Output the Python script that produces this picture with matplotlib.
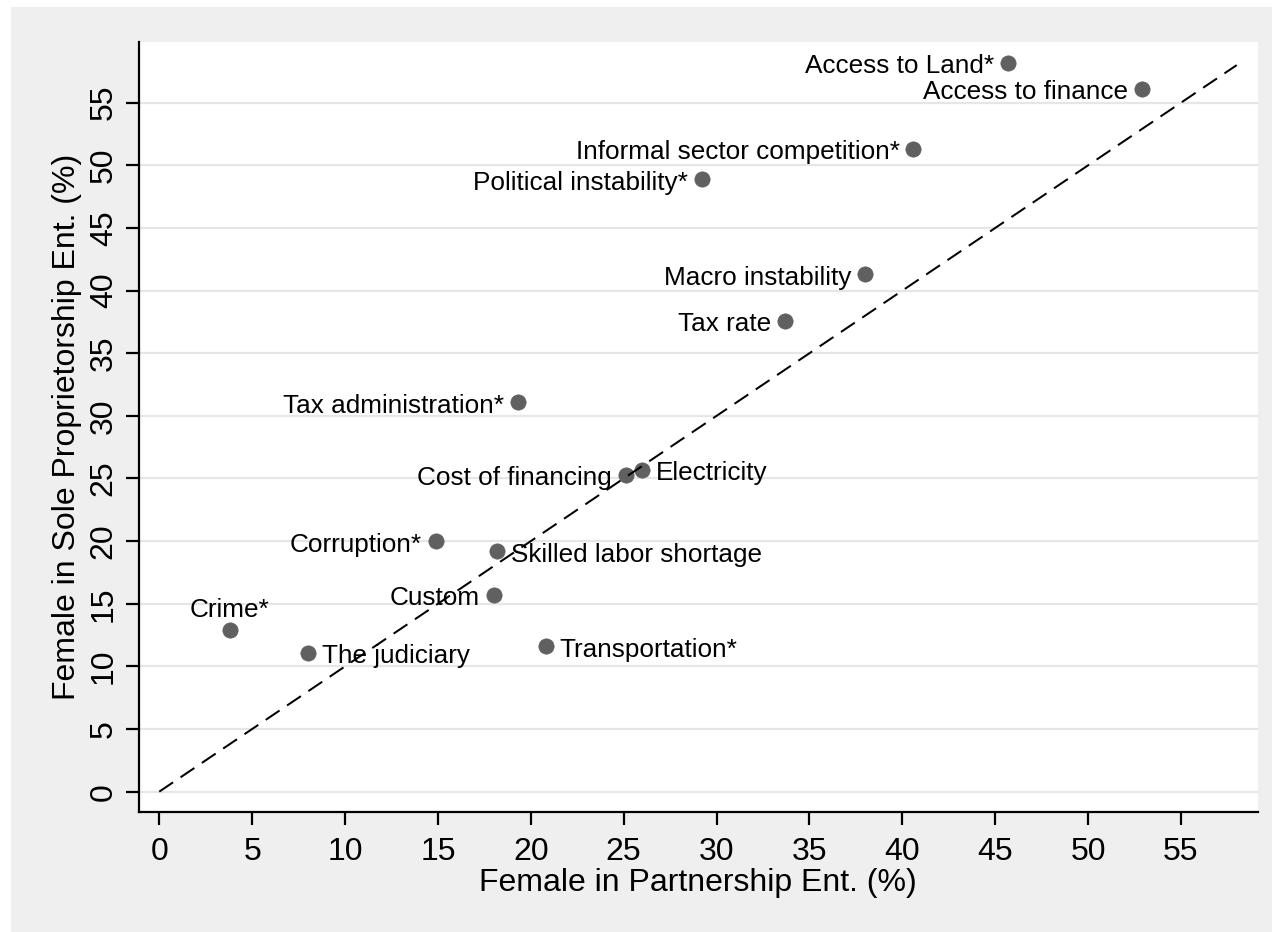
import matplotlib
matplotlib.use("Agg")
import matplotlib.pyplot as plt
from matplotlib.patches import Rectangle

# ---- data ----
categories = ["Access to Land*", "Access to finance", "Informal sector competition*",
              "Political instability*", "Macro instability", "Tax rate",
              "Tax administration*", "Cost of financing", "Electricity",
              "Corruption*", "Skilled labor shortage", "Custom", "Crime*",
              "The judiciary", "Transportation*"]
partnership = [45.7, 52.9, 40.6, 29.2, 38.0, 33.7, 19.3, 25.1, 26.0,
               14.9, 18.2, 18.0, 3.8, 8.0, 20.8]
sole = [58.2, 56.1, 51.3, 48.9, 41.3, 37.6, 31.1, 25.3, 25.7,
        20.0, 19.2, 15.7, 12.9, 11.1, 11.6]
label_side = ["left", "left", "left", "left", "left", "left", "left", "left", "right",
              "left", "right", "left", "above", "right", "right"]
x_ticks = list(range(0, 60, 5))
y_ticks = list(range(0, 60, 5))
diag = [0, 58]
x_title = "Female in Partnership Ent. (%)"
y_title = "Female in Sole Proprietorship Ent. (%)"

plt.rcParams['font.family'] = ['Liberation Sans', 'DejaVu Sans']
plt.rcParams['lines.scale_dashes'] = False

W, H = 1272, 932
fig = plt.figure(figsize=(W / 100, H / 100), dpi=100)
fig.patch.set_facecolor('white')
bg = Rectangle((11 / W, 0), 1 - 11 / W, 1 - 7 / H, transform=fig.transFigure,
               facecolor='#efefef', edgecolor='none', zorder=-10)
fig.add_artist(bg)

left, right, top, bottom = 139, 1257.7, 41.7, 811.7
ax = fig.add_axes([left / W, 1 - bottom / H, (right - left) / W, (bottom - top) / H])
ax.set_zorder(1)
ax.set_facecolor('white')
ax.set_xlim(-1.09, 59.13)
ax.set_ylim(-1.6, 59.87)

for s in ['top', 'right']:
    ax.spines[s].set_visible(False)
for s in ['left', 'bottom']:
    ax.spines[s].set_linewidth(1.6)
    ax.spines[s].set_color('black')

ax.set_xticks(x_ticks)
ax.set_yticks(y_ticks)
ax.set_xticklabels([str(v) for v in x_ticks])
ax.set_yticklabels([str(v) for v in y_ticks], rotation=90, va='center')
ax.tick_params(axis='both', length=9.5, width=1.6, labelsize=23, direction='out')
ax.tick_params(axis='x', pad=8.5)
ax.tick_params(axis='y', pad=5)
ax.yaxis.grid(True, color='#e6e6e6', linewidth=1.6)
ax.set_axisbelow(True)

ax.set_xlabel(x_title, fontsize=23, labelpad=1)
ax.set_ylabel(y_title, fontsize=23, labelpad=5)

ax.plot(diag, diag, color='black', linewidth=1.45, dashes=(12, 6.5), zorder=4)
ax.scatter(partnership, sole, s=121, color='#606060', edgecolors='#606060',
           linewidths=0.5, zorder=3)

for name, x, y, side in zip(categories, partnership, sole, label_side):
    if side == 'left':
        ax.annotate(name, (x, y), xytext=(-10, -7.5), textcoords='offset points',
                    ha='right', va='baseline', fontsize=18.8, zorder=3.5)
    elif side == 'right':
        ax.annotate(name, (x, y), xytext=(10, -7.5), textcoords='offset points',
                    ha='left', va='baseline', fontsize=18.8, zorder=3.5)
    else:
        ax.annotate(name, (x, y), xytext=(0, 9.4), textcoords='offset points',
                    ha='center', va='baseline', fontsize=18.8, zorder=3.5)

fig.savefig('out.png', dpi=100, facecolor=fig.get_facecolor())
